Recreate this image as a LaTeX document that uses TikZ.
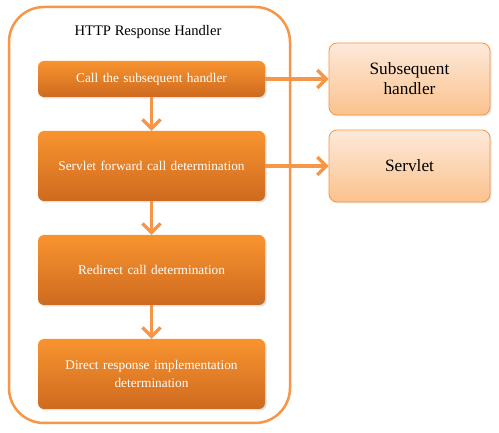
\documentclass[tikz,border=0pt]{standalone}
\usepackage{fontspec}
\setmainfont{Liberation Serif}
\usetikzlibrary{arrows.meta,shadows}
\definecolor{accent}{HTML}{F79646}
\definecolor{darktop}{HTML}{F8942F}
\definecolor{darkbottom}{HTML}{CE6A1F}
\definecolor{lighttop}{HTML}{FDE9DA}
\definecolor{lightbottom}{HTML}{FBC28D}
\begin{document}
\begin{tikzpicture}[x=1pt,y=1pt]

% definitions
\tikzstyle{container} = [rectangle, rounded corners=35pt, minimum width=281pt, minimum height=416pt, draw=accent, line width=2.5pt]

\tikzstyle{title} = [font=\fontsize{14.6}{17}\selectfont]

\tikzstyle{stage} = [rectangle, rounded corners=6pt, minimum width=227pt, text width=205pt, text centered, top color=darktop, bottom color=darkbottom, text=white, font=\fontsize{13.3}{17.3}\selectfont, drop shadow={shadow xshift=1.5pt, shadow yshift=-1.5pt, opacity=0.25}]

\tikzstyle{target} = [rectangle, rounded corners=8pt, minimum width=161pt, minimum height=72pt, text width=140pt, text centered, top color=lighttop, bottom color=lightbottom, draw=accent, line width=0.8pt, font=\fontsize{17.3}{20}\selectfont, drop shadow={shadow xshift=1.5pt, shadow yshift=-1.5pt, opacity=0.2}]

\tikzstyle{arrow} = [-{Straight Barb[length=9pt,width=18pt]}, line width=3.3pt, draw=accent]

\fill[white] (0,0) rectangle (499,-433);
\useasboundingbox (0,0) rectangle (499,-433);

% the graph
\node (box) [container] at (149.5,-215) {};

\node (title) [title] at (148,-32) {HTTP Response Handler};

\node (l1) [stage, minimum height=36pt] at (151.5,-79) {Call the subsequent handler};

\node (l2) [stage, minimum height=70pt] at (151.5,-166) {Servlet forward call determination};

\node (l3) [stage, minimum height=70pt] at (151.5,-270) {Redirect call determination};

\node (l4) [stage, minimum height=70pt] at (151.5,-374) {Direct response implementation\\ determination};

\node (s1) [target] at (409.5,-79) {Subsequent\\ handler};

\node (s2) [target] at (409.5,-166) {Servlet};


\draw [arrow] (l1) -- (l2);
\draw [arrow] (l2) -- (l3);
\draw [arrow] (l3) -- (l4);
\draw [arrow] (l1) -- (s1);
\draw [arrow] (l2) -- (s2);

\end{tikzpicture}
\end{document}
